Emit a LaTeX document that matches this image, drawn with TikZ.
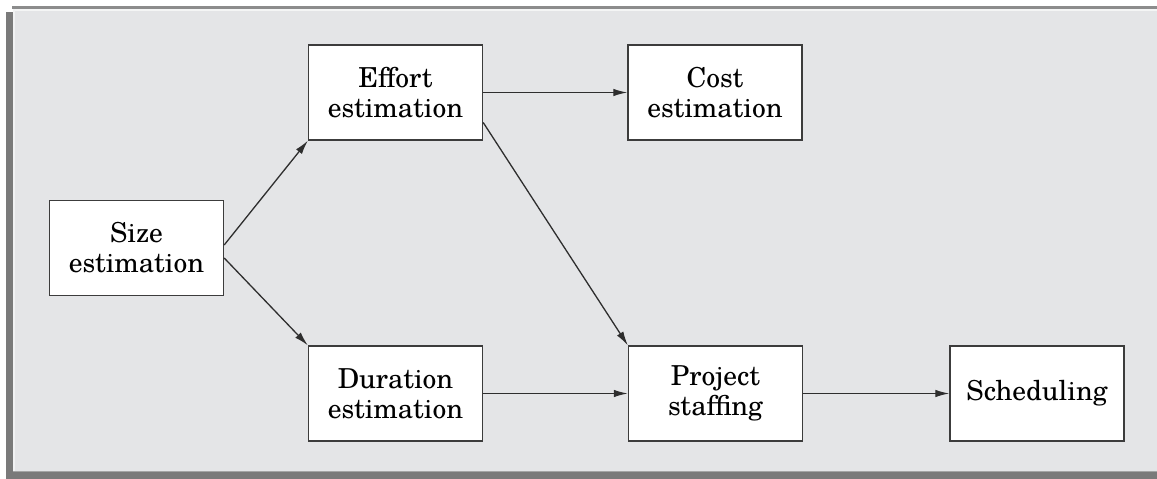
\documentclass[tikz,border=0pt]{standalone}
\usepackage{fontspec}
\setmainfont{TeX Gyre Schola}
\usetikzlibrary{arrows.meta}
\definecolor{panel}{HTML}{E4E5E7}
\definecolor{shadow}{HTML}{7A7A7A}
\definecolor{topline}{HTML}{8C8C8C}
\definecolor{boxline}{HTML}{3C3C3C}
\definecolor{arrowc}{HTML}{2E2E2E}
\tikzset{
  stepbox/.style={draw=boxline, line width=1.4pt, fill=white, minimum width=174pt,
    minimum height=95pt, inner sep=0pt, align=center,
    font=\fontsize{27.5}{30}\selectfont},
  flow/.style={draw=arrowc, line width=1.3pt, -{Latex[length=14pt,width=7.5pt]}}
}
\begin{document}
\begin{tikzpicture}[x=1pt,y=-1pt]
\useasboundingbox (0,0) rectangle (1157,479);
\fill[white] (0,0) rectangle (1157,479);
% panel with shadow
\fill[shadow] (6,12) rectangle (1157,479);
\fill[topline] (12,6) rectangle (1157,8.5);
\fill[panel] (13,8.5) rectangle (1157,472);
\fill[white!60!panel] (13,8.5) rectangle (1157,10.5);
\fill[white!50!panel] (13,8.5) rectangle (15,472);
\fill[shadow!60!panel] (13,470.5) rectangle (1157,472);
% boxes
\node[stepbox] (size) at (136.5,248) {Size\\estimation};
\node[stepbox] (effort) at (395.5,92.5) {Effort\\estimation};
\node[stepbox] (cost) at (715,92.5) {Cost\\estimation};
\node[stepbox] (duration) at (395.5,393.5) {Duration\\estimation};
\node[stepbox] (staffing) at (715.5,393.5) {Project\\staffing};
\node[stepbox] (sched) at (1037,393.5) {Scheduling};
% connectors
\draw[flow] ([yshift=3pt]size.east) -- (effort.south west);
\draw[flow] ([yshift=-10pt]size.east) -- (duration.north west);
\draw[flow] (effort.east) -- (cost.west);
\draw[flow] ([yshift=-30pt]effort.east) -- (staffing.north west);
\draw[flow] (duration.east) -- (staffing.west);
\draw[flow] (staffing.east) -- (sched.west);
\end{tikzpicture}
\end{document}
